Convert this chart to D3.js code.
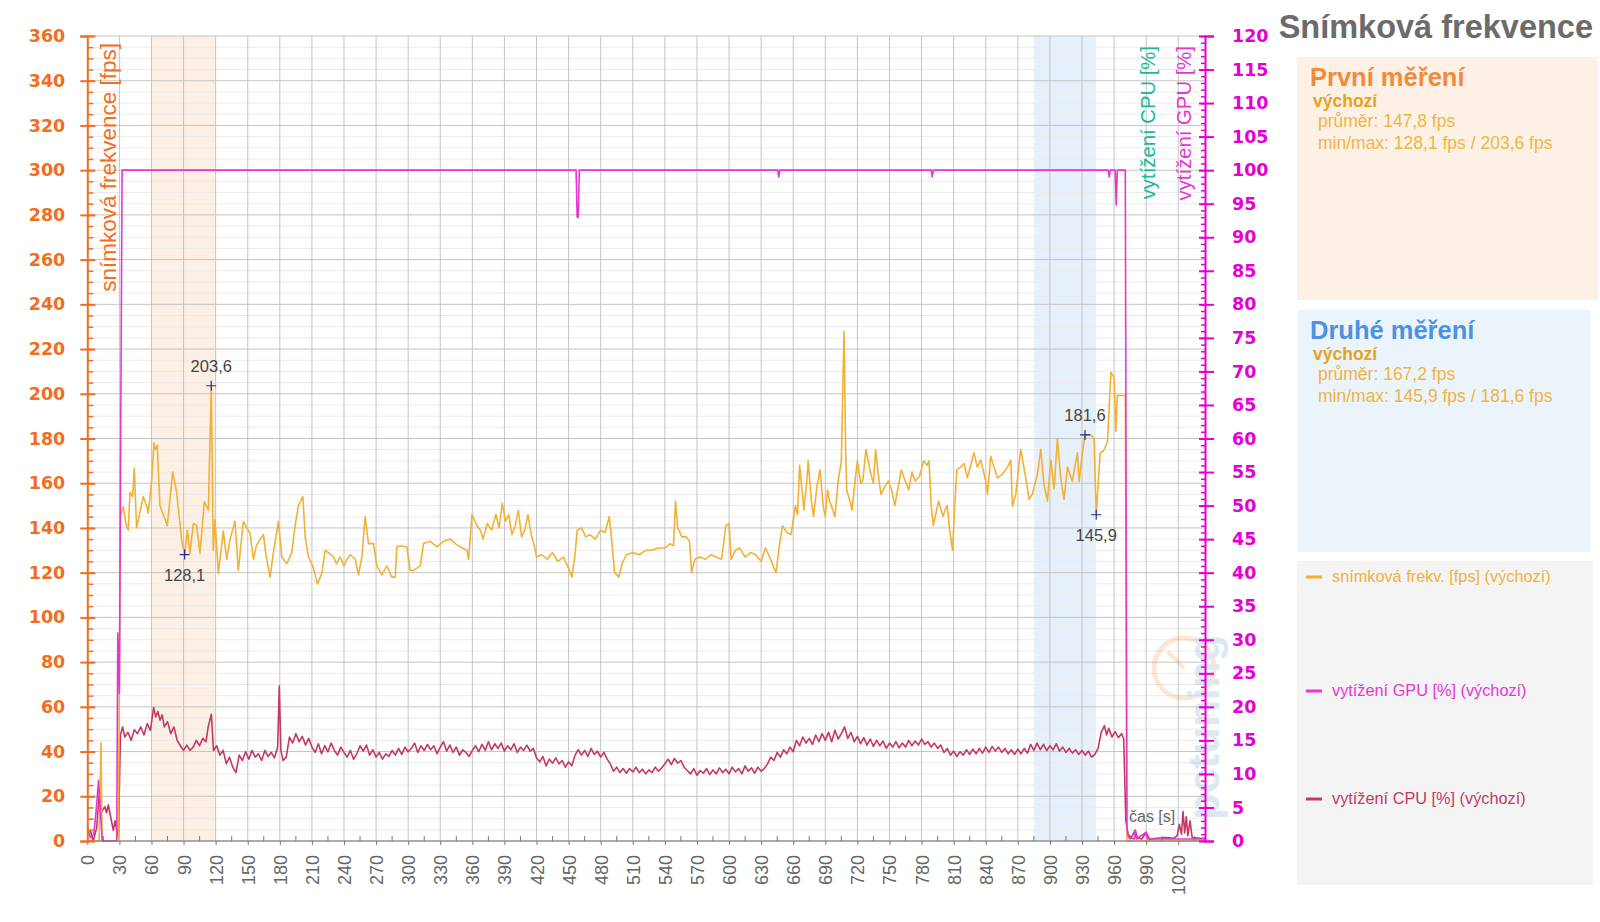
<!DOCTYPE html>
<html><head><meta charset="utf-8">
<script src="https://cdn.jsdelivr.net/npm/d3@7"></script>
<style>
html,body{margin:0;padding:0;background:#fff;}
svg{display:block;font-family:"Liberation Sans",Arial,sans-serif;}
</style></head>
<body><svg id="c" width="1600" height="922"></svg>
<script>
// ---------- data ----------
const xTickValues = [0,30,60,90,120,150,180,210,240,270,300,330,360,390,420,450,480,510,540,570,600,630,660,690,720,750,780,810,840,870,900,930,960,990,1020];
const fpsTickValues = [0,20,40,60,80,100,120,140,160,180,200,220,240,260,280,300,320,340,360];
const pctTickValues = [0,5,10,15,20,25,30,35,40,45,50,55,60,65,70,75,80,85,90,95,100,105,110,115,120];

// [time s, fps]
const fpsSeries = [[0,0],[11,0],[12.8,44],[13.8,0],[29,0],[31,145],[33.7,149.5],[36,142],[38.3,139],[39.9,156],[42.4,154],[43.9,166.7],[46.1,140],[49.2,147],[52.3,154],[55.4,150],[57,146.5],[60.1,161],[62.3,178],[63.5,175],[65.4,177],[67.9,150],[72.6,144],[74.8,141],[79.8,165],[83.5,156],[86.6,142],[88.2,134.5],[91,128.1],[93.5,139],[96,128.7],[99.1,142],[102.2,141],[105.4,128.7],[109.4,151.7],[113.2,148],[115.9,203.6],[117.8,130],[119.4,143.6],[122.5,119.7],[127.2,138.6],[130.3,126],[133.5,135],[138.1,143],[141.2,121],[145.9,143],[149,140],[152.2,137.5],[155.3,126],[158,132],[161.5,135],[164.7,137],[167,128],[170.9,118],[174,129],[178.7,143],[181.8,127],[186.5,124],[191.2,129],[194,140],[197.4,150],[201.5,154],[203.7,136],[206.8,127],[211.5,122],[215.2,115],[219.3,119.7],[222.4,130],[225.5,129],[230.2,127],[233,124],[236.4,127],[240,123],[242.7,126],[246,128],[250.5,126],[253.6,119],[256.7,127],[259.8,145],[262.9,133],[267.6,133],[270.7,123],[275.4,119],[280.1,123],[284.8,118],[287.9,118],[289.4,131.5],[292.5,132],[298.8,131.5],[301.9,121],[305,121],[311.3,123],[314.4,133],[320.6,134],[326.9,131.5],[333.1,134],[339.3,135],[344,133],[348.7,131.5],[355,130],[356.5,126],[359.7,146],[364.4,141],[367.5,139],[370,135],[374,142],[378,139],[382,146],[385,140],[388,151],[391,143],[394,146],[397,137],[400,141],[403,148],[406,136],[409,139],[412,146],[415,137],[418,132],[420,127],[425,128],[430,126],[435,129],[440,125],[445,127],[450,122],[453,118],[456,128],[458,139],[462,140],[466,136],[470,137],[475,135],[480,139],[484,138],[488,145],[490,136],[493,120],[497,118],[500,124],[504,128],[510,129],[516,128],[522,130],[528,130],[534,131],[540,131],[545,133],[548,132],[550,152],[552,140],[556,136],[560,136],[563,134],[565,120],[568,126],[573,127],[578,126],[583,128],[588,127],[593,126],[597,141],[600,142],[602,126],[606,130],[610,131],[615,127],[620,129],[625,128],[630,125],[634,131],[638,127],[642,122],[644,120],[647,132],[650,141],[654,138],[658,137],[662,150],[664,146],[666,168],[668,158],[670,148],[673,163],[674,170],[677,152],[679,145],[682,158],[685,166],[688,150],[690,145],[692,157],[694,152],[697,148],[699,145],[702,161],[705,170],[707.5,228],[709,175],[710,157],[713,152],[715,148],[718,162],[720,170],[723,160],[725,161],[728,175],[731,168],[732,165],[735,160],[737,175],[740,162],[742,155],[745,158],[749,161],[752,157],[755,150],[758,158],[761,166],[764,162],[768,157],[771,165],[774,161],[778,163],[782,170],[785,168],[787,170],[789,150],[791,141],[794,148],[796,152],[800,145],[802,148],[804,150],[806,140],[809,130],[811,150],[813,166],[816.6,167.2],[819.7,168.8],[822.8,162.4],[829,173.6],[832.1,167.2],[835.3,170.4],[840,160.8],[841.6,155.2],[844.7,172],[847.8,167.2],[850.9,162.4],[855.6,164],[860.3,167.2],[863.4,170.4],[865,149.6],[868.1,155.2],[872.7,175.2],[877.4,162.4],[880.5,152.8],[883.6,155.2],[888.3,164],[891.4,175.2],[894.5,159.2],[897.7,152],[900.8,170.4],[903.9,157.6],[907,180],[910.1,162.4],[913.2,152.8],[916.4,167.2],[921,160.8],[925.7,173.6],[927.3,160.8],[930.4,173.6],[932.8,181.6],[938.2,181.6],[941.3,180],[943.3,145.9],[947,173.6],[950.1,174.4],[953.8,178.4],[957,209.6],[960.1,207.2],[961.6,183.2],[963.1,199.2],[970.5,199.2],[972,0],[1045,0]];

// [time s, GPU %]
const gpuSeries = [[0,2],[3,0.5],[6,1],[8,4],[10.5,9],[12,5],[14,0],[27.5,0],[28.5,31],[30,22],[32.5,100],[457,100],[458,93],[459,93],[460,100],[645.5,100],[646.5,99],[647.5,100],[789,100],[790,99],[791,100],[954.5,100],[955.5,99],[956.5,100],[961,100],[962,94.8],[963,100],[970.5,100],[972,2],[973.5,0.5],[979,0.3],[980,1.6],[981,0.3],[990,1.3],[991,0.3],[1045,0.3]];

// [time s, CPU %]
const cpuSeries = [[0,1.6],[3,1.5],[5.6,0],[8.8,2],[11.2,7.1],[13.4,4.4],[16.5,5.1],[18,4.2],[19.7,5.4],[21.2,4.1],[24.3,1.6],[26,3],[27.5,1.6],[29,0.5],[31,15.8],[33,17],[35,15.5],[38,16.2],[41,15],[44,16.6],[47,16],[50,17],[53,15.8],[56,17.5],[59,16.5],[62,19.9],[64,18.5],[66,19.3],[68,18],[70,18.8],[72,17],[75,17.8],[78,16],[81,17],[84,15],[87,14.2],[90,13.5],[93,14.3],[96,13.5],[99,14],[102,15],[105,14.2],[108,15.3],[111,14.8],[113,17],[116,18.9],[118,13.5],[121,14.2],[124,12.8],[127,13.5],[130,11.5],[133,12.5],[136,11],[139,10.2],[142,12.8],[145,12],[148,13.3],[151,12.2],[154,13.5],[157,12.5],[160,13],[163,12],[166,13.5],[169,12.6],[172,13.2],[175,12.4],[178,14],[179.5,23.1],[181,13.5],[183,12],[186,12.5],[189,15.5],[192,14.6],[195,16],[198,14.8],[201,15.6],[204,14.3],[207,15.3],[210,14],[213,13.2],[216,14.5],[219,13],[222,14.2],[225,13.3],[228,14.6],[231,13.5],[234,12.8],[237,14],[240,13.2],[243,12.5],[246,13.5],[249,12.2],[252,13],[255,14.2],[258,13.4],[261,14.3],[264,12.8],[267,13.6],[270,12.5],[273,13.2],[276,12.2],[279,13],[282,12.6],[285,13.5],[288,12.8],[291,13.8],[294,12.9],[297,14],[300,13.3],[303,13.8],[306,14.6],[309,13.2],[312,14.2],[315,13.5],[318,14.4],[321,13.6],[324,14.2],[327,13],[330,14],[333,14.8],[336,13.4],[339,14.3],[342,13.2],[345,14],[348,12.8],[351,13.6],[354,13.2],[357,12.6],[360,13.5],[363,14.2],[366,13.3],[369,14.4],[372,13.5],[375,14.8],[378,13.6],[381,14.5],[384,13.8],[387,14.6],[390,13.4],[393,14.2],[396,13.6],[399,14.5],[402,13.2],[405,14],[408,13.5],[411,14.3],[414,13.4],[417,13.8],[420,12.4],[423,11.8],[426,12.6],[429,11.2],[432,12.2],[435,11.6],[438,12.4],[441,11.5],[444,12],[447,11],[450,11.8],[453,11.2],[456,12.8],[459,13.6],[462,12.8],[465,13.5],[468,12.6],[471,13.8],[474,12.9],[477,13.4],[480,12.5],[483,13.2],[486,12.2],[489,11.5],[492,10.4],[495,11],[498,10.2],[501,10.8],[504,10.1],[507,10.8],[510,10.3],[513,11],[516,10.2],[519,10.7],[522,10],[525,10.6],[528,10.2],[531,11],[534,10.4],[537,10.9],[540,11.5],[543,12.2],[546,11.4],[549,12.3],[552,11.6],[555,12],[558,11],[561,10.5],[564,10],[567,10.8],[570,9.8],[573,10.5],[576,10.1],[579,10.8],[582,9.9],[585,10.6],[588,10],[591,10.9],[594,10.2],[597,10.7],[600,10],[603,11],[606,10.3],[609,10.8],[612,10],[615,11.2],[618,10.4],[621,10.9],[624,10.1],[627,11],[630,10.4],[633,10.8],[636,11.5],[639,12.5],[642,12],[645,13.2],[648,12.5],[651,13.6],[654,13],[657,14],[660,13.3],[663,15],[666,14.2],[669,15.5],[672,14.6],[675,15.3],[678,14.4],[681,15.8],[684,14.8],[687,16],[690,15],[693,16.2],[696,14.8],[699,16.5],[702,15.2],[705,16],[708,17],[711,15.3],[714,16.2],[717,14.8],[720,15.6],[723,14.5],[726,15.4],[729,14.3],[732,15.2],[735,14.1],[738,15],[741,14.2],[744,14.9],[747,13.8],[750,14.6],[753,14],[756,14.8],[759,13.9],[762,14.6],[765,14],[768,15],[771,14.2],[774,14.9],[777,14.3],[780,15.2],[783,14.4],[786,14.8],[789,14],[792,14.6],[795,13.8],[798,14.3],[801,13.2],[804,13.8],[807,12.8],[810,13.4],[813,12.6],[816,13.3],[819,12.8],[822,13.6],[825,12.9],[828,13.7],[831,13],[834,13.8],[837,13.1],[840,14],[843,13.2],[846,14.1],[849,13.4],[852,14],[855,13.2],[858,13.8],[861,13],[864,13.6],[867,12.9],[870,13.7],[873,13],[876,13.8],[879,13.1],[882,14.4],[885,13.5],[888,14.6],[891,13.6],[894,14.4],[897,13.5],[900,14.2],[903,13.6],[906,14.5],[909,13.4],[912,14],[915,13.2],[918,13.8],[921,13.1],[924,13.6],[927,12.9],[930,13.5],[933,12.8],[936,13.4],[939,12.5],[942,12.9],[945,13.8],[948,16.2],[951,17.2],[953,15.8],[955,16.8],[958,15.5],[961,16.3],[964,15.4],[967,16],[969,15.2],[971,3],[973,1],[976,0.5],[979.6,1.6],[982,0.4],[986,0.3],[990,1.3],[993,0.3],[1000,0.4],[1008,0.5],[1016,0.4],[1019,0.8],[1021,2.5],[1023,1],[1024.5,4.4],[1026,1.2],[1027.5,3.6],[1029,0.8],[1031,3],[1033,0.5],[1040,0.4],[1045,0.4]];

// highlighted measurement windows [start s, end s]
const bandFirst = [60, 120];
const bandSecond = [885, 943];

// min/max markers: [time s, fps, label, position]
const markers = [[115.9,203.6,"203,6","above"],[91,128.1,"128,1","below"],[932.8,181.6,"181,6","above"],[943.3,145.9,"145,9","below"]];

const panelFirst = ["První měření","výchozí","průměr: 147,8 fps","min/max: 128,1 fps / 203,6 fps"];
const panelSecond = ["Druhé měření","výchozí","průměr: 167,2 fps","min/max: 145,9 fps / 181,6 fps"];
const legendItems = ["snímková frekv. [fps] (výchozí)","vytížení GPU [%] (výchozí)","vytížení CPU [%] (výchozí)"];

// ---------- drawing ----------
const C = {fps:"#f2b136", gpu:"#e536d4", cpu:"#c23a64", axL:"#f26d1d", axR:"#e400d4", teal:"#20b89a", grid:"#c4c4c4", gridMinor:"#ebebeb"};
const TICKFONT = "'DejaVu Sans',Verdana,sans-serif";
const svg = d3.select("#c");
const x = d3.scaleLinear().domain([0,1045]).range([87.3,1205]);
const yL = d3.scaleLinear().domain([0,360]).range([841,36]);
const yR = d3.scaleLinear().domain([0,120]).range([841,36]);

// bands
svg.append("rect").attr("x",x(bandFirst[0])).attr("y",yL(360)).attr("width",x(bandFirst[1])-x(bandFirst[0])).attr("height",yL(0)-yL(360)).attr("fill","#fcefe4");
svg.append("rect").attr("x",x(bandSecond[0])).attr("y",yL(360)).attr("width",x(bandSecond[1])-x(bandSecond[0])).attr("height",yL(0)-yL(360)).attr("fill","#e6f0fa");

// grid
const g = svg.append("g");
g.selectAll(".hm").data(d3.range(0,361,5).filter(v=>v%20!==0)).join("line")
 .attr("x1",x(0)).attr("x2",x(1045)).attr("y1",d=>yL(d)).attr("y2",d=>yL(d)).attr("stroke",C.gridMinor).attr("stroke-width",1);
g.selectAll(".hM").data(fpsTickValues).join("line")
 .attr("x1",x(0)).attr("x2",x(1045)).attr("y1",d=>yL(d)).attr("y2",d=>yL(d)).attr("stroke",C.grid).attr("stroke-width",1);
g.selectAll(".v").data(xTickValues.filter(v=>v>0)).join("line")
 .attr("x1",d=>x(d)).attr("x2",d=>x(d)).attr("y1",yL(0)).attr("y2",yL(360)).attr("stroke",C.grid).attr("stroke-width",1);

// watermark
const wm = svg.append("g").attr("opacity",0.25);
wm.append("circle").attr("cx",1184).attr("cy",668).attr("r",30).attr("fill","none").attr("stroke","#f5a060").attr("stroke-width",5);
wm.append("line").attr("x1",1184).attr("y1",668).attr("x2",1168).attr("y2",652).attr("stroke","#f5a060").attr("stroke-width",4);
wm.append("text").attr("transform","translate(1219,820) rotate(-90)").attr("font-size",44).attr("font-weight","bold").attr("fill","#7aa7d6").text("pctuning");

// lines
const lineL = d3.line().x(d=>x(d[0])).y(d=>yL(d[1]));
const lineR = d3.line().x(d=>x(d[0])).y(d=>yR(d[1]));
svg.append("path").datum(cpuSeries).attr("d",lineR).attr("fill","none").attr("stroke",C.cpu).attr("stroke-width",1.6).attr("stroke-linejoin","round");
svg.append("path").datum(fpsSeries).attr("d",lineL).attr("fill","none").attr("stroke",C.fps).attr("stroke-width",1.6).attr("stroke-linejoin","round");
svg.append("path").datum(gpuSeries).attr("d",lineR).attr("fill","none").attr("stroke",C.gpu).attr("stroke-width",1.6).attr("stroke-linejoin","round");

// markers
markers.forEach(m=>{
  const mx = x(m[0]), my = yL(m[1]);
  svg.append("path").attr("d",`M${mx-5},${my}H${mx+5}M${mx},${my-5}V${my+5}`).attr("stroke","#2a2a90").attr("stroke-width",1.2);
  svg.append("text").attr("x",mx).attr("y",m[3]==="above"?my-14:my+26).attr("text-anchor","middle")
    .attr("font-size",16.5).attr("fill","#444").text(m[2]);
});

// x axis
const xAxisG = svg.append("g").attr("transform",`translate(0,${yL(0)})`);
xAxisG.append("line").attr("x1",x(0)).attr("x2",x(1045)).attr("stroke","#777");
xAxisG.selectAll(".mt").data(d3.range(15,1045,30)).join("line")
  .attr("x1",d=>x(d)).attr("x2",d=>x(d)).attr("y1",-5).attr("y2",0).attr("stroke","#777");
const xAxis = d3.axisBottom(x).tickValues(xTickValues).tickSize(4).tickFormat(d3.format("d"));
const xa = svg.append("g").attr("transform",`translate(0,${yL(0)})`).call(xAxis);
xa.select(".domain").remove();
xa.selectAll("line").attr("stroke","#777");
xa.selectAll("text").attr("transform","rotate(-90)").attr("text-anchor","end")
  .attr("x",-14).attr("y",0).attr("dy","0.36em").attr("font-size",18).attr("fill","#666")
  .attr("font-family","'Liberation Sans',Arial,sans-serif");

// left axis
const la = svg.append("g").attr("transform",`translate(${x(0)},0)`)
  .call(d3.axisLeft(yL).tickValues(fpsTickValues).tickSize(7).tickPadding(15));
la.select(".domain").attr("stroke",C.axL).attr("stroke-width",2);
la.selectAll("line").attr("stroke",C.axL).attr("stroke-width",2);
la.selectAll("text").attr("font-size",17.5).attr("font-weight","bold").attr("fill",C.axL).attr("font-family",TICKFONT);
const laMinor = svg.append("g").attr("transform",`translate(${x(0)},0)`)
  .call(d3.axisRight(yL).tickValues(d3.range(0,361,5)).tickSize(6).tickFormat(""));
laMinor.select(".domain").remove();
laMinor.selectAll("line").attr("stroke",C.axL).attr("stroke-width",1.5);
const laMaj = svg.append("g").attr("transform",`translate(${x(0)},0)`)
  .call(d3.axisRight(yL).tickValues(fpsTickValues).tickSize(8).tickFormat(""));
laMaj.select(".domain").remove();
laMaj.selectAll("line").attr("stroke",C.axL).attr("stroke-width",2);

// right axis
const ra = svg.append("g").attr("transform",`translate(${x(1045)},0)`)
  .call(d3.axisRight(yR).tickValues(pctTickValues).tickSize(9).tickPadding(18));
ra.select(".domain").attr("stroke",C.axR).attr("stroke-width",2);
ra.selectAll("line").attr("stroke",C.axR).attr("stroke-width",2);
ra.selectAll("text").attr("font-size",17.5).attr("font-weight","bold").attr("fill",C.axR).attr("font-family",TICKFONT);
const raMinor = svg.append("g").attr("transform",`translate(${x(1045)},0)`)
  .call(d3.axisLeft(yR).tickValues(d3.range(0,121,1)).tickSize(4).tickFormat(""));
raMinor.select(".domain").remove();
raMinor.selectAll("line").attr("stroke",C.axR).attr("stroke-width",1.5);
const raMaj = svg.append("g").attr("transform",`translate(${x(1045)},0)`)
  .call(d3.axisLeft(yR).tickValues(pctTickValues).tickSize(6).tickFormat(""));
raMaj.select(".domain").remove();
raMaj.selectAll("line").attr("stroke",C.axR).attr("stroke-width",2);

// axis titles
svg.append("text").attr("transform","translate(116,43) rotate(-90)").attr("text-anchor","end")
  .attr("font-size",22.5).attr("fill",C.axL).text("snímková frekvence [fps]");
svg.append("text").attr("transform","translate(1155,46) rotate(-90)").attr("text-anchor","end")
  .attr("font-size",20.3).attr("fill",C.teal).text("vytížení CPU [%]");
svg.append("text").attr("transform","translate(1191,46) rotate(-90)").attr("text-anchor","end")
  .attr("font-size",20.3).attr("fill",C.gpu).text("vytížení GPU [%]");
svg.append("text").attr("x",1129).attr("y",822).attr("font-size",16).attr("fill","#666").text("čas [s]");

// title
svg.append("text").attr("x",1593).attr("y",38).attr("text-anchor","end").attr("font-size",32.5)
  .attr("font-weight","bold").attr("fill","#6b6b6b").text("Snímková frekvence");

// panels
function panel(y0,w,h,bg,lines,titleColor){
  svg.append("rect").attr("x",1297).attr("y",y0).attr("width",w).attr("height",h).attr("fill",bg);
  svg.append("text").attr("x",1310).attr("y",y0+29).attr("font-size",25.5).attr("font-weight","bold").attr("fill",titleColor).text(lines[0]);
  svg.append("text").attr("x",1313).attr("y",y0+50).attr("font-size",17.5).attr("font-weight","bold").attr("fill","#e6a31c").text(lines[1]);
  svg.append("text").attr("x",1318).attr("y",y0+70).attr("font-size",17.5).attr("fill","#f0b443").text(lines[2]);
  svg.append("text").attr("x",1318).attr("y",y0+92).attr("font-size",17.5).attr("fill","#f0b443").text(lines[3]);
}
panel(57,301,243,"#fdf1e6",panelFirst,"#f28a3e");
panel(310,294,242,"#ebf3fb",panelSecond,"#4b92e3");

// legend panel
svg.append("rect").attr("x",1297).attr("y",561).attr("width",296).attr("height",324).attr("fill","#f4f4f4");
const legColors = [C.fps,C.gpu,C.cpu];
const legY = [577,691,799];
legendItems.forEach((t,i)=>{
  svg.append("line").attr("x1",1306).attr("x2",1322).attr("y1",legY[i]).attr("y2",legY[i]).attr("stroke",legColors[i]).attr("stroke-width",3);
  svg.append("text").attr("x",1332).attr("y",legY[i]+5).attr("font-size",16.3).attr("fill",legColors[i]).text(t);
});
</script></body></html>
